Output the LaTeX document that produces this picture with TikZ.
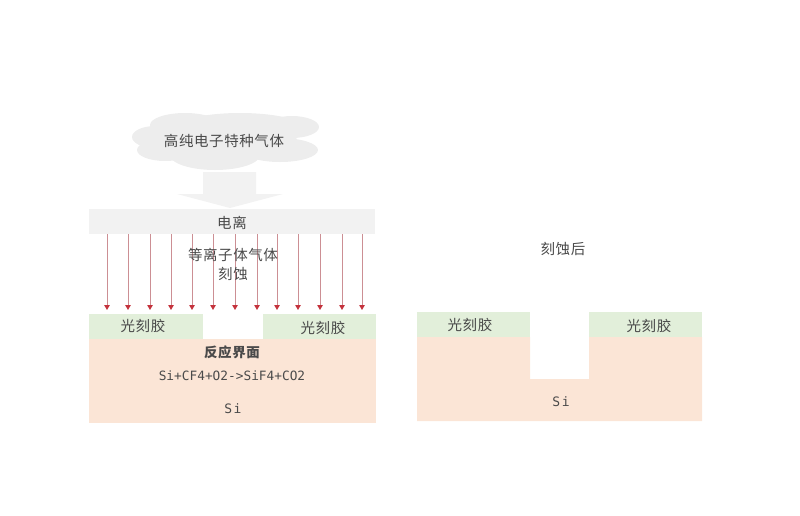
\documentclass[tikz,border=0pt]{standalone}
\usepackage{fontspec}
\setmainfont{Noto Sans CJK SC}[LetterSpace=4]
\newfontfamily\monof{DejaVu Sans Mono}
\usetikzlibrary{arrows.meta}
\definecolor{resistc}{HTML}{E2EFDA}
\definecolor{sic}{HTML}{FBE5D6}
\definecolor{barc}{HTML}{F2F2F2}
\definecolor{cloudc}{HTML}{EDEDED}
\definecolor{arrowc}{HTML}{CC8F94}
\definecolor{headc}{HTML}{C4323C}
\definecolor{textc}{HTML}{4A4A4A}
\tikzset{
  x=1pt,y=-1pt,
  lab/.style={text=textc,font=\fontsize{14.5}{16}\selectfont,inner sep=0pt},
  latin/.style={text=textc,font=\monof\fontsize{13}{15}\selectfont,inner sep=0pt},
  box/.style={anchor=north west,inner sep=0pt,outer sep=0pt},
  ray/.style={draw=arrowc,line width=1pt,-{Triangle[length=5pt,width=5.5pt,color=headc]}}
}
\begin{document}
\begin{tikzpicture}
\useasboundingbox (0,0) rectangle (800,515);
% cloud
\begin{scope}
\clip (120,113) rectangle (340,175);
\foreach \cx/\cy/\rx/\ry in {185/125/35/12,240/126/60/13,292/127/27/11,155/137/23/11,165/150/28/11,215/155/45/15,280/150/38/12,227/140/70/20}
  \fill[cloudc] (\cx,\cy) ellipse [x radius=\rx, y radius=\ry];
\end{scope}
\node[lab] (cltext) at (224,141) {高纯电子特种气体};
% big arrow
\fill[barc] (203,172) -- (256,172) -- (256,194) -- (283,194) -- (230,208) -- (177,194) -- (203,194) -- cycle;
% ionisation bar
\node[box,fill=barc,minimum width=286pt,minimum height=25pt] (bar) at (89,209) {};
\node[lab] (bartext) at (232,223) {电离};
% rays
\foreach \i/\x in {1/107,2/128,3/150,4/171,5/192,6/213,7/235,8/257,9/277,10/298,11/320,12/342,13/362}{
  \coordinate (r\i) at (\x,310);
  \draw[ray] (bar.south -| r\i) -- (r\i);
}
\node[lab] (plasma) at (233,255) {等离子体气体};
\node[lab] (etch) at (233,274) {刻蚀};
% left stack
\node[box,fill=sic,minimum width=287pt,minimum height=84pt] (si1) at (89,339) {};
\node[box,fill=resistc,minimum width=114pt,minimum height=25pt] (pr1) at (89,314) {};
\node[box,fill=resistc,minimum width=113pt,minimum height=25pt] (pr2) at (263,314) {};
\node[lab] at (143,326) {光刻胶};
\node[lab] at (323,328) {光刻胶};
\node[lab,font=\fontsize{13.5}{16}\selectfont\bfseries] (iface) at (232,352) {反应界面};
\node[latin,font=\monof\fontsize{12.8}{15}\selectfont] (react) at (232,376) {Si+CF4+O2->SiF4+CO2};
\node[latin] (si1t) at (233,409) {S\kern1.5pt i};
% right stack
\node[lab] (after) at (563,249) {刻蚀后};
\fill[sic] (417,337) -- (530,337) -- (530,379) -- (589,379) -- (589,337) -- (702,337) -- (702,421) -- (417,421) -- cycle;
\node[box,fill=resistc,minimum width=113pt,minimum height=25pt] (pr3) at (417,312) {};
\node[box,fill=resistc,minimum width=113pt,minimum height=25pt] (pr4) at (589,312) {};
\node[lab] at (470,325) {光刻胶};
\node[lab] at (649,326) {光刻胶};
\node[latin] (si2t) at (561,402) {S\kern1.5pt i};
\end{tikzpicture}
\end{document}
